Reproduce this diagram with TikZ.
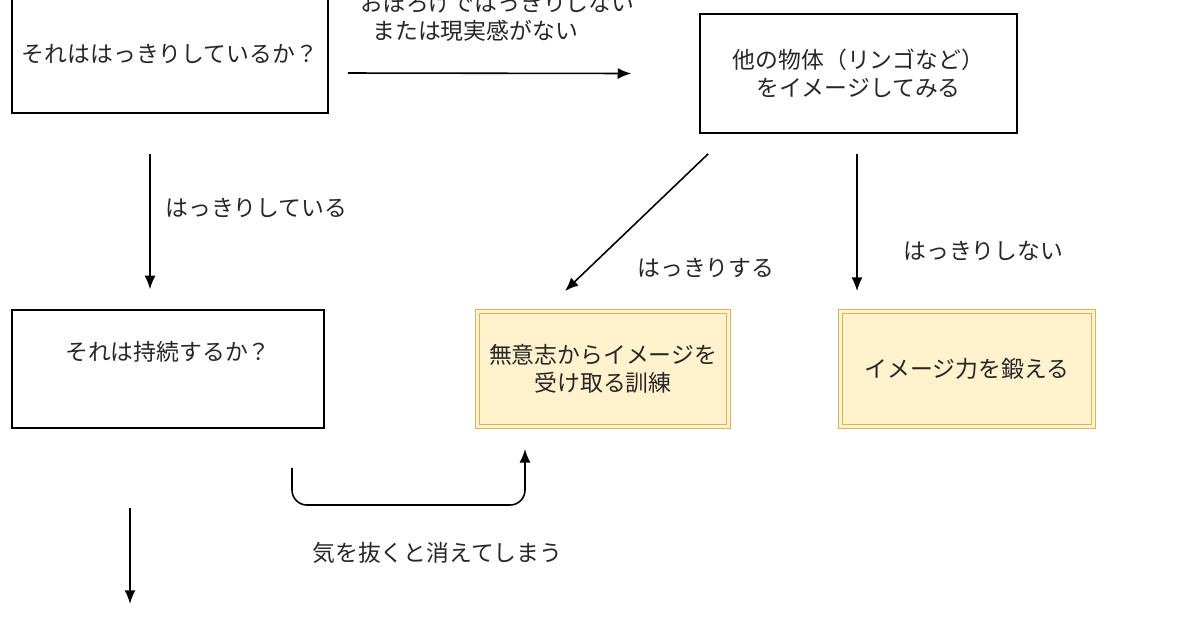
\documentclass[tikz,border=0pt]{standalone}
\usepackage{fontspec}
\setmainfont{Noto Sans CJK JP}
\usepackage{xcolor}
\usetikzlibrary{arrows,arrows.meta,calc,positioning}
\definecolor{noteFill}{HTML}{FFF2CC}
\definecolor{noteLine}{HTML}{D6B656}
\tikzset{%
	question/.style = {draw=black, line width=0.9pt, rectangle, minimum height=2.36cm, text centered, align=center},
	goal/.style     = {draw=noteLine, double=noteFill, double distance=2pt, line width=0.6pt, fill=noteFill, rectangle, minimum height=2.3cm, text centered, align=center},
	arrow/.style    = {line width=0.9pt,-{Latex[length=0.27cm,width=0.22cm]}},
	lbl/.style      = {anchor=west, inner sep=0pt, align=left},
}

\begin{document}
\begin{tikzpicture}[x=0.02cm, y=-0.02cm, font=\fontsize{13pt}{16pt}\selectfont, text=black!85]
	\useasboundingbox (0,0) rectangle (1200,630);
	% boxes
	\node[question, minimum width=6.32cm] (clear) at (170,54) {それははっきりしているか？};
	\node[question, minimum width=6.34cm, minimum height=2.38cm] (other) at (858.5,73.5) {他の物体（リンゴなど）\\をイメージしてみる};
	\node[question, minimum width=6.24cm] (persist) at (168,369) {それは持続するか？\\\strut};
	\node[goal, minimum width=5.02cm] (train) at (603,369) {無意志からイメージを\\受け取る訓練};
	\node[goal, minimum width=5.06cm] (power) at (967,369) {イメージ力を鍛える};
	
	% connectors
	\draw[arrow] ($(clear.east)+(19,19)$) -- ($(other.west)+(-68,0)$);
	\draw[arrow] ($(clear.south)+(-20,40)$) -- ($(persist.north)+(-18,-20)$);
	\draw[arrow] ($(other.south west)+(9,20)$) -- ($(train.north)+(-38,-20)$);
	\draw[arrow] ($(other.south)+(-1.5,20)$) -- ($(power.north)+(-110,-20)$);
	\draw[arrow, rounded corners=0.3cm] ($(persist.south)+(124,39)$) |- ($(train.south)+(-78,78)$) -- ($(train.south)+(-78,22)$);
	\draw[arrow] ($(persist.south)+(-38,79)$) -- ($(persist.south)+(-38,175)$);
	
	% labels
	\node[lbl] (vague) at (360,17) {おぼろげではっきりしない\\\hspace{0.24cm}または現実感がない};
	\node[lbl] (isclear) at (165,208) {はっきりしている};
	\node[lbl] (becomes) at (637,268) {はっきりする};
	\node[lbl] (notclear) at (903,251) {はっきりしない};
	\node[lbl] (fades) at (312,553) {気を抜くと消えてしまう};
\end{tikzpicture}
\end{document}
